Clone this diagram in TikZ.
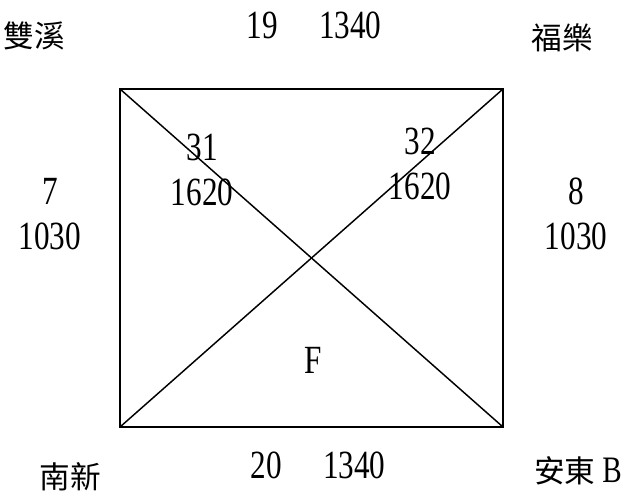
\documentclass[tikz,border=0pt]{standalone}
\usepackage{fontspec}
\setmainfont{Liberation Serif}[FakeStretch=0.78]
\newfontfamily\cjk{Noto Sans CJK TC}
\usetikzlibrary{positioning}

\begin{document}
\begin{tikzpicture}[
  x=0.75pt, y=-0.75pt,
  num/.style={inner sep=0pt, align=center,
              font=\fontsize{30}{33.75}\selectfont},
  place/.style={inner sep=0pt, font=\cjk\fontsize{23}{27}\selectfont},
  frame/.style={line width=1.5pt},
  diag/.style={line width=1.1pt},
]
\useasboundingbox (0,0) rectangle (638,498);

% Corners of the block
\coordinate (nw) at (120, 89);
\coordinate (ne) at (503, 89);
\coordinate (sw) at (120, 427);
\coordinate (se) at (503, 427);

% Frame and diagonals
\draw[diag] (nw) -- (se);
\draw[diag] (sw) -- (ne);
\draw[frame] (nw) -- (ne) -- (se) -- (sw) -- cycle;

% Corner places
\node[place] (shuangxi) at (34, 36) {雙溪};
\node[place] (fule) at (562, 38) {福樂};
\node[place] (nanxin) at (70, 477) {南新};
\node[place] (andong) at (578, 471)
  {安東 {\rmfamily\fontsize{28}{30}\selectfont B}};

% Top and bottom
\node[num] (top) at (314, 25) {19\hspace{31pt}1340};
\node[num] (bottom) at (318, 465) {20\hspace{31pt}1340};

% Left and right
\node[num] (left) at (50, 214) {7\\1030};
\node[num] (right) at (576, 214) {8\\1030};

% Diagonal labels
\node[num] (dnw) at (202, 170) {31\\1620};
\node[num] (dne) at (420, 164) {32\\1620};
\node[num] (f) at (313, 360) {F};

\end{tikzpicture}
\end{document}
